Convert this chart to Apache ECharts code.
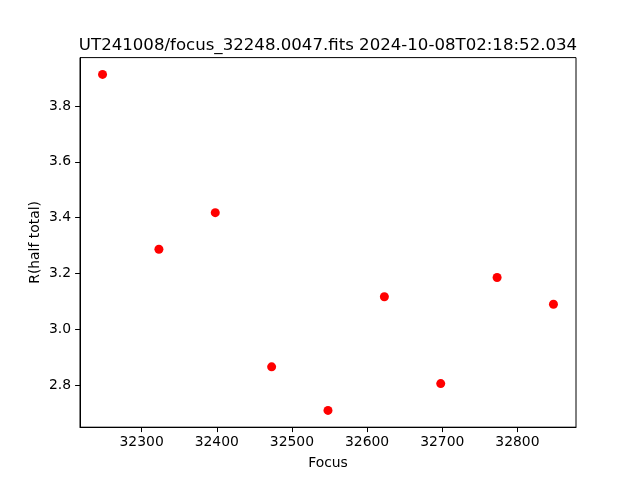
<!DOCTYPE html>
<html>
<head>
<meta charset="utf-8">
<script src="https://cdn.jsdelivr.net/npm/echarts@6/dist/echarts.min.js"></script>
<style>html,body{margin:0;padding:0;background:#fff}#c{width:640px;height:480px}</style>
</head>
<body>
<div id="c"></div>
<script>
const focusValues = [32248, 32323, 32398, 32473, 32548, 32623, 32698, 32773, 32848];
const radiusValues = [3.913, 3.287, 3.418, 2.866, 2.710, 3.117, 2.806, 3.186, 3.090];
const xTicks = [32300, 32400, 32500, 32600, 32700, 32800];
const yTicks = [2.8, 3.0, 3.2, 3.4, 3.6, 3.8];
const titleText = 'UT241008/focus_32248.0047.fits 2024-10-08T02:18:52.034';

const xPad = (Math.max(...focusValues) - Math.min(...focusValues)) * 0.05;
const yPad = (Math.max(...radiusValues) - Math.min(...radiusValues)) * 0.05;
const font = 'DejaVu Sans';

const chart = echarts.init(document.getElementById('c'), null, {renderer: 'canvas'});
chart.setOption({
  animation: false,
  backgroundColor: '#fff',
  title: {
    text: titleText,
    left: 323, top: 32, textAlign: 'center',
    textStyle: {fontFamily: font, fontSize: 16.6, fontWeight: 'normal', color: '#000'}
  },
  grid: {left: 80, right: 64, top: 57.6, bottom: 52.8, show: true, borderColor: '#000', borderWidth: 1, backgroundColor: 'transparent'},
  xAxis: {
    type: 'value',
    min: Math.min(...focusValues) - xPad,
    max: Math.max(...focusValues) + xPad,
    name: 'Focus', nameLocation: 'middle', nameGap: 29, nameMoveOverlap: false,
    nameTextStyle: {fontFamily: font, fontSize: 13.9, color: '#000'},
    axisLine: {show: true, onZero: false, lineStyle: {color: '#000', width: 1}},
    axisTick: {show: true, length: 4.9, customValues: xTicks, lineStyle: {color: '#000'}},
    axisLabel: {customValues: xTicks, margin: 8, fontFamily: font, fontSize: 13.9, color: '#000', formatter: v => String(v)},
    splitLine: {show: false}
  },
  yAxis: {
    type: 'value',
    min: Math.min(...radiusValues) - yPad,
    max: Math.max(...radiusValues) + yPad,
    name: 'R(half total)', nameLocation: 'middle', nameGap: 38, nameRotate: 90, nameMoveOverlap: false,
    nameTextStyle: {fontFamily: font, fontSize: 13.9, color: '#000'},
    axisLine: {show: true, onZero: false, lineStyle: {color: '#000', width: 1}},
    axisTick: {show: true, length: 4.9, customValues: yTicks, lineStyle: {color: '#000'}},
    axisLabel: {customValues: yTicks, margin: 9, fontFamily: font, fontSize: 13.9, color: '#000', formatter: v => v.toFixed(1)},
    splitLine: {show: false}
  },
  series: [{
    type: 'scatter',
    data: focusValues.map((f, i) => [f, radiusValues[i]]),
    symbol: 'circle', symbolSize: 9,
    itemStyle: {color: '#ff0000', opacity: 1}
  }]
});
</script>
</body>
</html>
